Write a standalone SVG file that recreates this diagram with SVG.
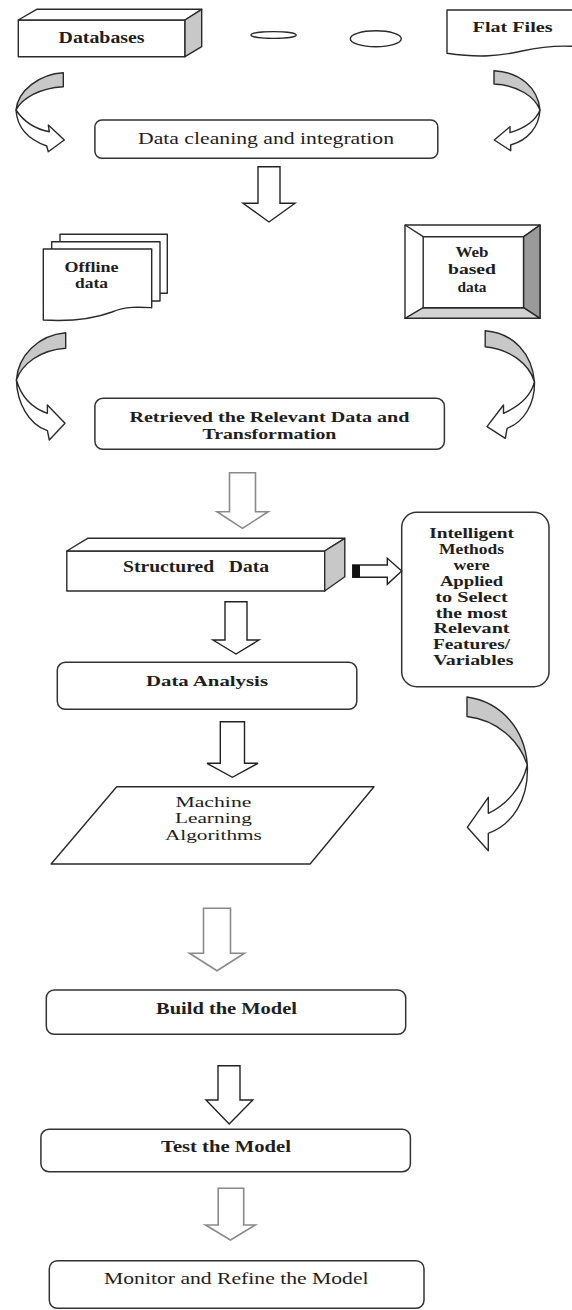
<svg xmlns="http://www.w3.org/2000/svg" width="572" height="1310" viewBox="0 0 572 1310">
<style>
.s{fill:#fff;stroke:#2a2a2a;stroke-width:1.4;stroke-linejoin:round}
.g{fill:#c8c8c8;stroke:#2a2a2a;stroke-width:1.4;stroke-linejoin:round}
.dg{fill:#9a9a9a;stroke:#2a2a2a;stroke-width:1.4;stroke-linejoin:round}
.lg{fill:#d2d2d2;stroke:#2a2a2a;stroke-width:1.4;stroke-linejoin:round}
.ab{fill:#fff;stroke:#222;stroke-width:1.4;stroke-linejoin:miter}
.ag{fill:#fff;stroke:#8a8a8a;stroke-width:1.6;stroke-linejoin:miter}
.bx{fill:#fff;stroke:#333;stroke-width:1.5}
text{font-family:"Liberation Serif","Times New Roman",serif;fill:#1e1e1e;text-anchor:middle}
.b{font-weight:bold}
</style>
<rect width="572" height="1310" fill="#fff"/>

<g id="databases">
<rect class="s" x="18.3" y="20" width="166.7" height="36.7"/>
<polygon class="s" points="18.3,20 36.7,9.3 201.7,9.3 185,20"/>
<polygon class="g" points="185,20 201.7,9.3 201.7,46.7 185,56.7"/>
<text class="b" x="101.6" y="43" font-size="16" textLength="86" lengthAdjust="spacingAndGlyphs">Databases</text>
</g>

<g id="source-ellipse-1">
<ellipse class="s" cx="273.6" cy="35" rx="22.6" ry="3.4"/>
</g>
<g id="source-ellipse-2">
<ellipse class="s" cx="375.8" cy="38.7" rx="25.5" ry="8"/>
</g>

<g id="flat-files">
<path class="s" d="M447,10 L576,10 L576,46.5 C555,45 540,47 522,51 C500,56 480,58 447,53.3 Z"/>
<text class="b" x="512.6" y="32" font-size="15" textLength="80" lengthAdjust="spacingAndGlyphs">Flat Files</text>
</g>

<g id="data-cleaning">
<rect class="bx" x="94.9" y="120" width="342.9" height="38.3" rx="7"/>
<text x="266" y="143.5" font-size="16.5" textLength="256" lengthAdjust="spacingAndGlyphs">Data cleaning and integration</text>
</g>

<g id="offline-data">
<path class="s" d="M60,234.3 L167.3,234.3 L167.3,293.3 L60,293.3 Z"/>
<path class="s" d="M51.7,241.7 L160,241.7 L160,301 L51.7,301 Z"/>
<path class="s" d="M43.3,249 L151.7,249 L151.7,307.7 C140,307 126,306 112,312 C96,318 76,322 43.3,320 Z"/>
<text class="b" x="91.5" y="271.7" font-size="14" textLength="54" lengthAdjust="spacingAndGlyphs">Offline</text>
<text class="b" x="91.5" y="287.7" font-size="14" textLength="33" lengthAdjust="spacingAndGlyphs">data</text>
</g>

<g id="web-based-data">
<rect class="s" x="405" y="225" width="135" height="93.3"/>
<polygon class="dg" points="540,225 540,318.3 523.5,307.7 523.5,236.7"/>
<polygon class="lg" points="405,318.3 540,318.3 523.5,307.7 423.2,307.7"/>
<line x1="405" y1="225" x2="423.2" y2="236.7" stroke="#2a2a2a" stroke-width="1.4"/>
<line x1="540" y1="225" x2="523.5" y2="236.7" stroke="#2a2a2a" stroke-width="1.4"/>
<rect class="s" x="423.2" y="236.7" width="100.3" height="71"/>
<text class="b" x="472" y="256.7" font-size="14" textLength="33" lengthAdjust="spacingAndGlyphs">Web</text>
<text class="b" x="472" y="274" font-size="14" textLength="48" lengthAdjust="spacingAndGlyphs">based</text>
<text class="b" x="472" y="291.7" font-size="14" textLength="29" lengthAdjust="spacingAndGlyphs">data</text>
</g>

<g id="retrieved">
<rect class="bx" x="94.9" y="398.3" width="349.5" height="51" rx="8"/>
<text class="b" x="269.4" y="421.7" font-size="15" textLength="280" lengthAdjust="spacingAndGlyphs">Retrieved the Relevant Data and</text>
<text class="b" x="269.4" y="438.5" font-size="15" textLength="134" lengthAdjust="spacingAndGlyphs">Transformation</text>
</g>

<g id="structured-data">
<rect class="s" x="66.8" y="551" width="257.9" height="40"/>
<polygon class="s" points="66.8,551 87.6,538.3 344.8,538.3 324.7,551"/>
<polygon class="g" points="324.7,551 344.8,538.3 344.8,576.7 324.7,591"/>
<text class="b" x="196.1" y="572" font-size="16" textLength="146" lengthAdjust="spacingAndGlyphs" xml:space="preserve">Structured   Data</text>
</g>

<g id="intelligent-methods">
<rect class="bx" x="401.7" y="512.3" width="147.3" height="174.4" rx="15"/>
<text class="b" font-size="14">
<tspan x="473.3" y="538.3" textLength="84.7" lengthAdjust="spacingAndGlyphs">Intelligent</tspan>
<tspan x="473.3" y="554" textLength="65" lengthAdjust="spacingAndGlyphs">Methods</tspan>
<tspan x="473.3" y="570" textLength="36" lengthAdjust="spacingAndGlyphs">were</tspan>
<tspan x="473.3" y="586" textLength="63.3" lengthAdjust="spacingAndGlyphs">Applied</tspan>
<tspan x="473.3" y="601.7" textLength="72.7" lengthAdjust="spacingAndGlyphs">to Select</tspan>
<tspan x="473.3" y="617.7" textLength="71.7" lengthAdjust="spacingAndGlyphs">the most</tspan>
<tspan x="473.3" y="633.3" textLength="76" lengthAdjust="spacingAndGlyphs">Relevant</tspan>
<tspan x="473.3" y="649" textLength="77.3" lengthAdjust="spacingAndGlyphs">Features/</tspan>
<tspan x="473.3" y="665" textLength="80.3" lengthAdjust="spacingAndGlyphs">Variables</tspan>
</text>
</g>

<g id="data-analysis">
<rect class="bx" x="57.3" y="662.3" width="299.5" height="47" rx="8"/>
<text class="b" x="207" y="685.5" font-size="15" textLength="122" lengthAdjust="spacingAndGlyphs">Data Analysis</text>
</g>

<g id="machine-learning">
<polygon class="s" points="116.7,786.7 374,786.7 310.1,864 51.1,864"/>
<text x="213.4" y="807" font-size="15" textLength="76" lengthAdjust="spacingAndGlyphs">Machine</text>
<text x="213.4" y="823" font-size="15" textLength="77" lengthAdjust="spacingAndGlyphs">Learning</text>
<text x="213.4" y="839.5" font-size="15" textLength="97" lengthAdjust="spacingAndGlyphs">Algorithms</text>
</g>

<g id="build-model">
<rect class="bx" x="46.3" y="990" width="359.4" height="44.3" rx="8"/>
<text class="b" x="226.5" y="1013.5" font-size="16" textLength="141" lengthAdjust="spacingAndGlyphs">Build the Model</text>
</g>

<g id="test-model">
<rect class="bx" x="40.9" y="1129.3" width="369.5" height="42.4" rx="8"/>
<text class="b" x="226" y="1152" font-size="16" textLength="130" lengthAdjust="spacingAndGlyphs">Test the Model</text>
</g>

<g id="monitor-model">
<rect class="bx" x="49.3" y="1260.7" width="374.7" height="47.6" rx="8"/>
<text x="236.3" y="1283.5" font-size="16" textLength="264.5" lengthAdjust="spacingAndGlyphs">Monitor and Refine the Model</text>
</g>

<g id="connectors">
<!-- curved arrows into Data cleaning -->
<path class="g" d="M63.3,72.7 C40,74 18,90 16,110 C22,98 40,88 63.3,86.7 Z"/>
<path class="s" d="M16,110 C17,126 27,139 46.7,146 L48.3,151.7 L64.3,140 L48.3,125 L49.3,131.7 C35,129 24,122 16,110 Z"/>
<path class="g" d="M494,70.7 C520,72 538,88 540,110 C535,97 518,85 494,84 Z"/>
<path class="s" d="M540,110 C539,127 528,140 510.7,145 L510.7,150.7 L494.3,140 L510,126.7 L510,132.7 C525,128 536,120 540,110 Z"/>
<!-- down arrow 1 -->
<polygon class="ab" points="258,166.7 280,166.7 280,203.3 295,203.3 269,222 243,203.3 258,203.3"/>
<!-- curved arrows into Retrieved -->
<path class="g" d="M65.7,332.7 C38,335 18,356 16.4,380 C22,364 40,350 65.7,348.3 Z"/>
<path class="s" d="M16.4,380 C17,402 28,424 47.4,430.7 L49.3,440 L65,423.3 L47.4,405 L47.4,413.3 C32,408 21,396 16.4,380 Z"/>
<path class="g" d="M485.2,330.7 C514,333 532,354 534.5,381.7 C529,364 510,349 485.2,346.7 Z"/>
<path class="s" d="M534.5,381.7 C535,404 524,422 507.1,428.3 L505.3,438.3 L487,426.7 L503.5,405 L503.5,413.3 C520,406 531,396 534.5,381.7 Z"/>
<!-- down arrow 2 -->
<polygon class="ag" points="229.5,472.7 255.5,472.7 255.5,511.7 268.2,511.7 242.5,528.3 217,511.7 229.5,511.7"/>
<!-- right arrow to Intelligent -->
<polygon class="ab" points="352.7,565 387.3,565 387.3,558.3 401.7,571 387.3,584.3 387.3,577.3 352.7,577.3"/>
<rect x="352.7" y="565" width="7.3" height="12.3" fill="#111"/>
<!-- down arrow 3 -->
<polygon class="ab" points="225,601.7 247,601.7 247,640 259,640 236,654 213,640 225,640"/>
<!-- down arrow 4 -->
<polygon class="ab" points="220.3,721.7 244.5,721.7 244.5,763.3 258,763.3 232.4,777.3 207,763.3 220.3,763.3"/>
<!-- curved arrow from Intelligent -->
<path class="g" d="M467,697 C502,702 525,730 527.3,765 C519,740 497,720 467,716.5 Z"/>
<path class="s" d="M527.3,765 C529,800 512,825 488.3,833.3 L488.3,850.7 L467.3,827.3 L488.3,797.3 L488.3,813.3 C506,805 522,788 527.3,765 Z"/>
<!-- down arrow 5 -->
<polygon class="ag" points="203.5,908.3 230.5,908.3 230.5,953.3 244.4,953.3 217,970.7 189.5,953.3 203.5,953.3"/>
<!-- down arrow 6 -->
<polygon class="ab" points="218,1065.7 240,1065.7 240,1100 252.8,1100 229.2,1124 206,1100 218,1100"/>
<!-- down arrow 7 -->
<polygon class="ag" points="218.2,1188.3 243.7,1188.3 243.7,1225 255.4,1225 230.5,1240 205.5,1225 218.2,1225"/>
</g>
</svg>
